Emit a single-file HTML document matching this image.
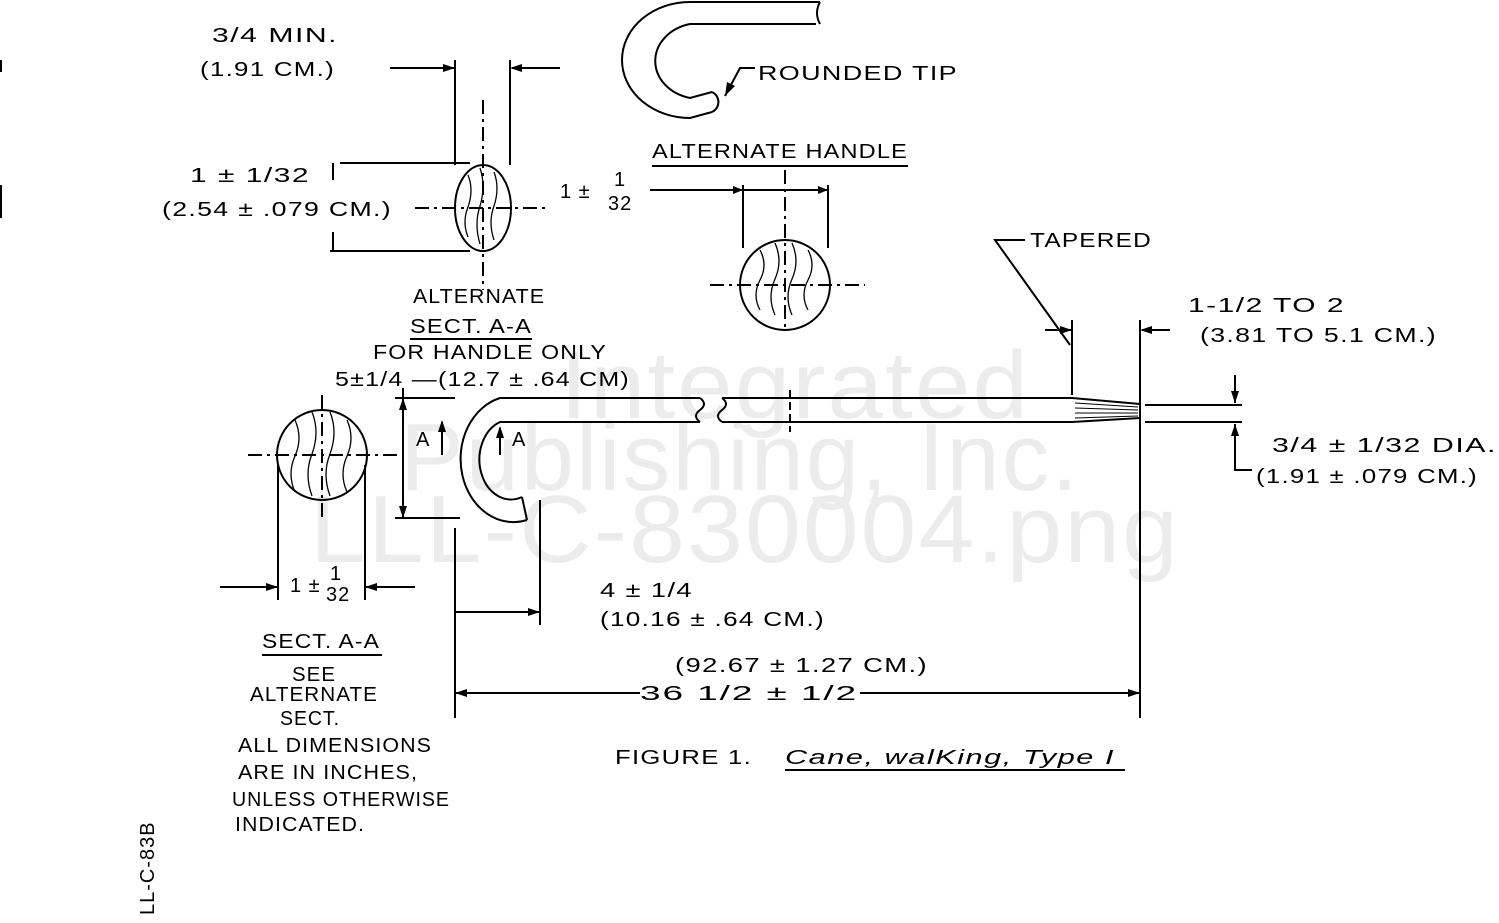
<!DOCTYPE html>
<html><head><meta charset="utf-8"><style>
html,body{margin:0;padding:0;background:#fff;}
svg{display:block}
text{font-family:"Liberation Sans",sans-serif;fill:#000;font-size:20px;letter-spacing:1px}
.wm{fill:#ececec;font-size:96px;letter-spacing:2px}
</style></head><body>
<svg width="1499" height="923" viewBox="0 0 1499 923" xmlns="http://www.w3.org/2000/svg">
<text class="wm" x="560" y="418" textLength="470" lengthAdjust="spacingAndGlyphs">Integrated</text>
<text class="wm" x="400" y="490" textLength="680" lengthAdjust="spacingAndGlyphs">Publishing, Inc.</text>
<text class="wm" x="310" y="562" textLength="870" lengthAdjust="spacingAndGlyphs">LLL-C-830004.png</text>
<g stroke="#000" stroke-width="2" fill="none">
<line x1="1" y1="60" x2="1" y2="72"/><line x1="1" y1="185" x2="1" y2="218"/>
<path d="M820,2 L690,2 A68 58 0 0 0 690 118 L712 112"/>
<path d="M816,24 L690,24 A45 38 0 0 0 690 98 L712 92"/>
<path d="M712,92 A11 11 0 0 1 712 112"/>
<path d="M820,2 q-6,11 0,22"/>
<path d="M725,96 L740,68 L755,68"/>
<line x1="652" y1="166" x2="908" y2="166"/>
<circle cx="785" cy="285" r="45"/>
<line x1="743" y1="185" x2="743" y2="248"/><line x1="828" y1="185" x2="828" y2="248"/>
<line x1="650" y1="190" x2="828" y2="190"/>
<line x1="710" y1="285" x2="865" y2="285" stroke-dasharray="14 5 3 5"/>
<line x1="785" y1="170" x2="785" y2="332" stroke-dasharray="14 5 3 5"/>
<g stroke-width="1.3"><path d="M760,250 q8,15 0,30 q-8,15 0,30"/><path d="M775,243 q8,18 0,36 q-8,18 0,36"/><path d="M792,243 q8,18 0,36 q-8,18 0,36"/><path d="M808,250 q8,15 0,30 q-8,15 0,30"/></g>
<ellipse cx="483" cy="208" rx="28" ry="43"/>
<line x1="455" y1="60" x2="455" y2="165"/><line x1="510" y1="60" x2="510" y2="165"/>
<line x1="390" y1="68" x2="455" y2="68"/><line x1="512" y1="68" x2="560" y2="68"/>
<line x1="340" y1="163" x2="470" y2="163"/><line x1="330" y1="251" x2="470" y2="251"/>
<line x1="333" y1="163" x2="333" y2="180"/><line x1="333" y1="232" x2="333" y2="251"/>
<line x1="415" y1="208" x2="550" y2="208" stroke-dasharray="14 5 3 5"/>
<line x1="483" y1="100" x2="483" y2="290" stroke-dasharray="14 5 3 5"/>
<g stroke-width="1.3"><path d="M468,175 q6,15 0,32 q-6,15 0,30"/><path d="M480,168 q6,18 0,38 q-6,18 0,38"/><path d="M494,172 q6,16 0,34 q-6,16 0,34"/></g>
<line x1="410" y1="339" x2="532" y2="339"/>
<path d="M700,398 L500,398 A52 62 0 0 0 527 520"/>
<path d="M700,422 L500,422 A30 38 0 0 0 522 497"/>
<path d="M522,497 L527,520"/>
<path d="M700,398 q8,6 0,12 q-8,6 0,12"/>
<path d="M722,398 q8,6 0,12 q-8,6 0,12"/>
<path d="M722,398 L1072,398 L1140,404"/>
<path d="M722,422 L1072,422 L1140,418"/>
<line x1="1140" y1="404" x2="1140" y2="418"/>
<g stroke-width="1"><line x1="1075" y1="403" x2="1138" y2="407"/><line x1="1075" y1="408" x2="1138" y2="410"/><line x1="1075" y1="413" x2="1138" y2="413"/><line x1="1075" y1="418" x2="1138" y2="416"/></g>
<line x1="790" y1="390" x2="790" y2="432" stroke-dasharray="8 4"/>
<line x1="403" y1="388" x2="403" y2="518"/>
<line x1="395" y1="518" x2="460" y2="518"/>
<line x1="395" y1="398" x2="455" y2="398"/>
<line x1="442" y1="422" x2="442" y2="455"/><line x1="500" y1="428" x2="500" y2="455"/>
<circle cx="322" cy="455" r="45"/>
<line x1="278" y1="465" x2="278" y2="600"/><line x1="365" y1="465" x2="365" y2="600"/>
<line x1="220" y1="587" x2="278" y2="587"/><line x1="365" y1="587" x2="415" y2="587"/>
<line x1="248" y1="455" x2="400" y2="455" stroke-dasharray="14 5 3 5"/>
<line x1="322" y1="395" x2="322" y2="520" stroke-dasharray="14 5 3 5"/>
<g stroke-width="1.3"><path d="M295,420 q8,18 0,36 q-8,18 0,36"/><path d="M312,412 q8,20 0,42 q-8,20 0,42"/><path d="M330,412 q8,20 0,42 q-8,20 0,42"/><path d="M347,420 q8,18 0,36 q-8,18 0,36"/></g>
<line x1="455" y1="528" x2="455" y2="718"/>
<line x1="540" y1="500" x2="540" y2="625"/>
<line x1="455" y1="612" x2="540" y2="612"/>
<line x1="1140" y1="320" x2="1140" y2="718"/>
<line x1="455" y1="693" x2="640" y2="693"/><line x1="860" y1="693" x2="1140" y2="693"/>
<line x1="1072" y1="320" x2="1072" y2="395"/>
<line x1="1045" y1="330" x2="1072" y2="330"/><line x1="1142" y1="330" x2="1170" y2="330"/>
<path d="M1025,240 L995,240 L1070,345"/>
<line x1="1145" y1="405" x2="1242" y2="405"/><line x1="1145" y1="422" x2="1242" y2="422"/>
<line x1="1235" y1="375" x2="1235" y2="403"/>
<path d="M1235,424 L1235,470 L1252,470"/>
<line x1="262" y1="655" x2="382" y2="655"/>
<line x1="785" y1="770" x2="1125" y2="770"/>
</g>
<g fill="#000">
<polygon points="455,68 443,64 443,72"/><polygon points="510,68 522,64 522,72"/>
<polygon points="743,190 733,186 733,194"/><polygon points="828,190 818,186 818,194"/>
<polygon points="442,420 438,432 446,432"/><polygon points="500,426 496,438 504,438"/>
<polygon points="403,398 399,410 407,410"/><polygon points="403,518 399,506 407,506"/>
<polygon points="278,587 266,583 266,591"/><polygon points="365,587 377,583 377,591"/>
<polygon points="540,612 528,608 528,616"/>
<polygon points="455,693 467,689 467,697"/><polygon points="1140,693 1128,689 1128,697"/>
<polygon points="1072,330 1060,326 1060,334"/><polygon points="1140,330 1152,326 1152,334"/>
<polygon points="1235,403 1231,391 1239,391"/><polygon points="1235,424 1231,436 1239,436"/>
<polygon points="725,96 727,82 735,86"/>
</g>
<g lengthAdjust="spacingAndGlyphs">
<text x="212" y="42" textLength="126" lengthAdjust="spacingAndGlyphs">3/4 MIN.</text>
<text x="200" y="76" textLength="135" lengthAdjust="spacingAndGlyphs">(1.91 CM.)</text>
<text x="190" y="182" textLength="120" lengthAdjust="spacingAndGlyphs">1 ± 1/32</text>
<text x="162" y="216" textLength="230" lengthAdjust="spacingAndGlyphs">(2.54 ± .079 CM.)</text>
<text x="758" y="80" textLength="200" lengthAdjust="spacingAndGlyphs">ROUNDED TIP</text>
<text x="652" y="158" textLength="256" lengthAdjust="spacingAndGlyphs">ALTERNATE HANDLE</text>
<text x="560" y="198">1 ±</text>
<text x="614" y="186" font-size="16">1</text>
<text x="608" y="210" font-size="16">32</text>
<text x="413" y="303" textLength="132" lengthAdjust="spacingAndGlyphs">ALTERNATE</text>
<text x="410" y="333" textLength="122" lengthAdjust="spacingAndGlyphs">SECT. A-A</text>
<text x="373" y="359" textLength="234" lengthAdjust="spacingAndGlyphs">FOR HANDLE ONLY</text>
<text x="335" y="386" textLength="295" lengthAdjust="spacingAndGlyphs">5±1/4 —(12.7 ± .64 CM)</text>
<text x="1030" y="247" textLength="122" lengthAdjust="spacingAndGlyphs">TAPERED</text>
<text x="1188" y="312" textLength="157" lengthAdjust="spacingAndGlyphs">1-1/2 TO 2</text>
<text x="1200" y="342" textLength="237" lengthAdjust="spacingAndGlyphs">(3.81 TO 5.1 CM.)</text>
<text x="1272" y="452" textLength="225" lengthAdjust="spacingAndGlyphs">3/4 ± 1/32 DIA.</text>
<text x="1256" y="483" textLength="222" lengthAdjust="spacingAndGlyphs">(1.91 ± .079 CM.)</text>
<text x="416" y="446" font-size="22">A</text>
<text x="512" y="446" font-size="22">A</text>
<text x="290" y="592">1 ±</text>
<text x="330" y="580" font-size="15">1</text>
<text x="326" y="601" font-size="15">32</text>
<text x="600" y="597" textLength="93" lengthAdjust="spacingAndGlyphs">4 ± 1/4</text>
<text x="600" y="626" textLength="225" lengthAdjust="spacingAndGlyphs">(10.16 ± .64 CM.)</text>
<text x="675" y="672" textLength="253" lengthAdjust="spacingAndGlyphs">(92.67 ± 1.27 CM.)</text>
<text x="640" y="700" font-size="24" textLength="218" lengthAdjust="spacingAndGlyphs">36 1/2 ± 1/2</text>
<text x="262" y="648" textLength="118" lengthAdjust="spacingAndGlyphs">SECT. A-A</text>
<text x="292" y="681" textLength="44" lengthAdjust="spacingAndGlyphs">SEE</text>
<text x="250" y="701" textLength="128" lengthAdjust="spacingAndGlyphs">ALTERNATE</text>
<text x="280" y="725" textLength="60" lengthAdjust="spacingAndGlyphs">SECT.</text>
<text x="238" y="752" textLength="194" lengthAdjust="spacingAndGlyphs">ALL DIMENSIONS</text>
<text x="238" y="779" textLength="180" lengthAdjust="spacingAndGlyphs">ARE IN INCHES,</text>
<text x="232" y="806" textLength="218" lengthAdjust="spacingAndGlyphs">UNLESS OTHERWISE</text>
<text x="235" y="831" textLength="130" lengthAdjust="spacingAndGlyphs">INDICATED.</text>
<text x="615" y="764" textLength="137" lengthAdjust="spacingAndGlyphs">FIGURE 1.</text>
<text x="785" y="764" font-style="italic" textLength="330" lengthAdjust="spacingAndGlyphs">Cane, walKing, Type I</text>
</g>
<text transform="translate(154,915) rotate(-90)" font-size="16">LL-C-83B</text>
</svg>
</body></html>
